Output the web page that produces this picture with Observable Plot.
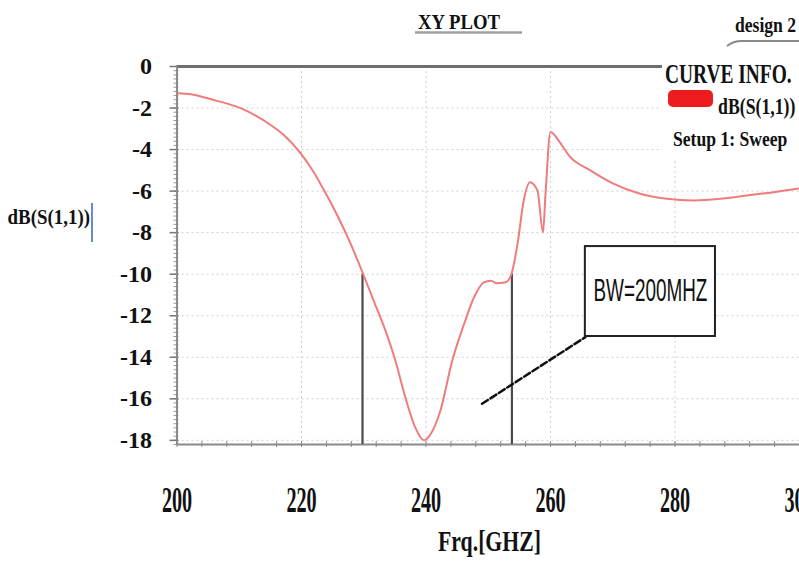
<!DOCTYPE html>
<html><head><meta charset="utf-8">
<script src="https://cdn.jsdelivr.net/npm/d3@7"></script>
<script src="https://cdn.jsdelivr.net/npm/@observablehq/plot@0.6"></script>
<style>
html,body{margin:0;padding:0;background:#fff;}
#wrap{position:relative;width:799px;height:562px;overflow:hidden;background:#fff;}
#wrap svg{position:absolute;left:0;top:0;}
</style></head><body><div id="wrap"></div>
<script>
// ---- data ----
const freqGHz = [200.1, 202.2, 205.5, 210.3, 215.1, 217.2, 219.9, 222.0, 223.6, 225.8, 227.9, 229.8,
  231.6, 233.5, 235.1, 236.7, 238.3, 239.7, 240.7, 242.3, 244.2, 246.1, 247.7, 249.3, 250.4, 251.4,
  252.8, 253.7, 254.7, 255.7, 256.7, 257.9, 258.8, 259.2, 260.0, 261.5, 263.0, 266.4, 270.1, 274.4,
  278.7, 283.0, 287.3, 291.5, 295.8, 298.5, 300.0];
const s11dB = [-1.29, -1.34, -1.58, -2.02, -2.83, -3.31, -4.19, -5.1, -5.95, -7.2, -8.54, -9.91,
  -11.28, -12.73, -14.18, -15.95, -17.4, -18.0, -17.72, -16.59, -14.18, -12.41, -11.12, -10.39, -10.31, -10.44,
  -10.39, -10.02, -8.54, -6.45, -5.57, -5.97, -7.98, -6.13, -3.15, -3.65, -4.3, -5.0, -5.64, -6.13,
  -6.37, -6.45, -6.37, -6.21, -6.05, -5.93, -5.87];
const xTickLabels = [200, 220, 240, 260, 280, 300];
const xGridLines = [220, 240, 260, 280];
const xMinorTicks = d3.range(0, 26).map(i => 200 + 4 * i);
const yTickLabels = [0, -2, -4, -6, -8, -10, -12, -14, -16, -18];
const yMinorTicks = d3.range(0, 92).map(i => -0.2 * i);
const bwEdges = [229.8, 253.8];
const bwLevel = -10;
const noteText = "BW=200MHZ";
const noteBox = [{x1: 265.6, x2: 286.5, y1: -8.67, y2: -13.0}];
const leader = [{f: 249.0, db: -16.24}, {f: 265.6, db: -13.03}];
const xDomain = [200, 300];
const yDomain = [-18.2, 0];

// ---- layout ----
const W = 799, H = 562, mL = 176.5, mR = 0, mT = 66, mB = 118;
const plotW = W - mL - mR, plotH = H - mT - mB;
const serif = "'Liberation Serif', 'Times New Roman', serif";
const curve = freqGHz.map((f, i) => ({f, db: s11dB[i]}));

const chart = Plot.plot({
  width: W, height: H,
  marginLeft: mL, marginRight: mR, marginTop: mT, marginBottom: mB,
  x: {domain: xDomain, axis: null},
  y: {domain: yDomain, axis: null},
  style: {fontFamily: serif, background: "white"},
  marks: [
    Plot.ruleY(yTickLabels, {stroke: "#cfcfcf", strokeDasharray: "2,3"}),
    Plot.ruleX(xGridLines, {stroke: "#cfcfcf", strokeDasharray: "2,3"}),
    Plot.tickX(xMinorTicks, {x: d => d, stroke: "#888", insetTop: plotH - 3, insetBottom: -3}),
    Plot.tickY(yMinorTicks, {y: d => d, stroke: "#9a9a9a", insetRight: plotW - 2, insetLeft: -3}),
    Plot.tickY(yTickLabels, {y: d => d, stroke: "#777", strokeWidth: 1.5, insetRight: plotW - 2, insetLeft: -7}),
    Plot.ruleY([yDomain[1]], {stroke: "#6e6e6e", strokeWidth: 3}),
    Plot.ruleY([yDomain[0]], {stroke: "#8a8a8a", strokeWidth: 2}),
    Plot.ruleX([xDomain[0]], {stroke: "#8a8a8a", strokeWidth: 2}),
    Plot.ruleX(bwEdges, {y1: bwLevel, y2: yDomain[0], stroke: "#4a4a4a", strokeWidth: 2.2}),
    Plot.line(curve, {x: "f", y: "db", stroke: "#ef7c7c", strokeWidth: 2, curve: "monotone-x"}),
    Plot.line(leader, {x: "f", y: "db", stroke: "#111", strokeWidth: 2.5, strokeDasharray: "7,3"}),
    Plot.rect(noteBox, {x1: "x1", x2: "x2", y1: "y1", y2: "y2", fill: "white", stroke: "#222", strokeWidth: 2}),
    Plot.text(noteBox, {x: d => (d.x1 + d.x2) / 2, y: d => (d.y1 + d.y2) / 2, text: () => noteText,
      fontFamily: "'Liberation Sans', Arial, sans-serif", fontSize: 31, fill: "#111"}),
    Plot.text(xTickLabels, {x: d => d, frameAnchor: "bottom", dy: 67, text: d => String(d),
      fontSize: 36, fontWeight: "bold", fill: "#111"}),
    Plot.text(yTickLabels, {y: d => d, frameAnchor: "left", dx: -25, textAnchor: "end", text: d => String(d),
      fontSize: 24, fontWeight: "bold", fill: "#111"})
  ]
});

// squeeze some texts horizontally (the reference glyphs are tall and narrow)
function condense(root, match, sx) {
  root.querySelectorAll("text").forEach(t => {
    if (!match(t.textContent)) return;
    const tr = t.getAttribute("transform");
    const x = t.getAttribute("x");
    if (!tr && x != null) {
      t.setAttribute("transform", `translate(${x},${t.getAttribute("y") || 0}) scale(${sx},1)`);
      t.removeAttribute("x"); t.removeAttribute("y");
    } else {
      t.setAttribute("transform", (tr || "") + ` scale(${sx},1)`);
    }
  });
}
const xLabelSet = new Set(xTickLabels.map(String));
condense(chart, s => xLabelSet.has(s), 0.56);
condense(chart, s => s === noteText, 0.61);
document.getElementById("wrap").appendChild(chart);

// ---- titles, legend and axis labels ----
const ov = d3.select("#wrap").append("svg").attr("width", W).attr("height", H)
  .style("font-family", serif).style("pointer-events", "none");
function label(txt, x, y, size, sx, anchor = "start") {
  ov.append("text").attr("transform", `translate(${x},${y}) scale(${sx},1)`)
    .attr("text-anchor", anchor).attr("font-size", size).attr("font-weight", "bold")
    .attr("fill", "#111").text(txt);
}
// legend panel
ov.append("rect").attr("x", 662).attr("y", 50).attr("width", 137).attr("height", 108).attr("fill", "white");
label("CURVE INFO.", 665, 83, 27, 0.72);
ov.append("rect").attr("x", 668).attr("y", 90).attr("width", 45).attr("height", 17).attr("rx", 5).attr("fill", "#ee1c1c");
label("dB(S(1,1))", 718, 114, 24, 0.74);
label("Setup 1: Sweep", 673, 146, 22, 0.8);
// title
label("XY PLOT", 459, 29, 22, 0.85, "middle");
ov.append("line").attr("x1", 415).attr("x2", 522).attr("y1", 32.5).attr("y2", 32.5).attr("stroke", "#a0a0a0").attr("stroke-width", 2.5);
label("design 2", 735, 32, 22, 0.8);
ov.append("path").attr("d", "M727,46 Q733,41 742,41 L799,41").attr("fill", "none").attr("stroke", "#888").attr("stroke-width", 2);
// axis titles
label("dB(S(1,1))", 90, 224, 21, 0.9, "end");
ov.append("line").attr("x1", 92).attr("x2", 92).attr("y1", 203).attr("y2", 242).attr("stroke", "#3060d0").attr("stroke-width", 1.5);
label("Frq.[GHZ]", 489.5, 551, 29, 0.75, "middle");
</script>
</body></html>
